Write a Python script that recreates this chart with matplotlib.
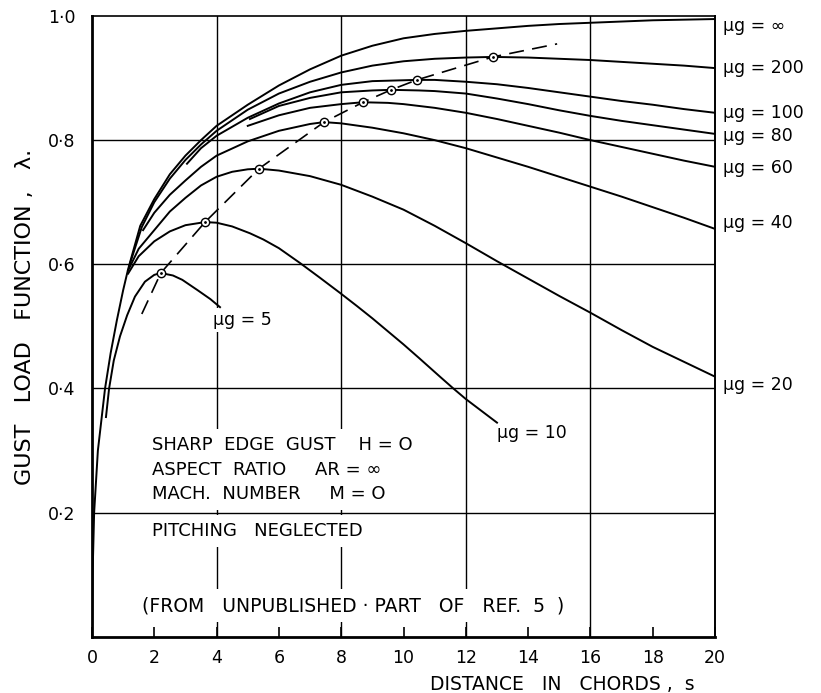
import matplotlib
matplotlib.use("Agg")
import matplotlib.pyplot as plt

# curve readings (distance in chords, gust load function)
inf_x = [0, 0.02, 0.07, 0.19, 0.42, 0.6, 0.8, 1.0, 1.16, 1.55, 2, 2.5, 3, 3.5, 4, 5, 6, 7, 8, 9, 10, 11, 12, 13, 14, 15, 16, 17, 18, 19, 20]
inf_y = [0, 0.1, 0.2, 0.3, 0.4, 0.457, 0.51, 0.558, 0.592, 0.662, 0.705, 0.745, 0.775, 0.8, 0.823, 0.857, 0.888, 0.914, 0.936, 0.952, 0.964, 0.971, 0.976, 0.980, 0.984, 0.987, 0.989, 0.991, 0.993, 0.994, 0.995]

mu200_x = [1.2, 1.6, 2, 2.5, 3, 3.5, 4, 5, 6, 7, 8, 9, 10, 11, 12, 12.87, 14, 15, 16, 17, 18, 19, 20]
mu200_y = [0.598, 0.66, 0.70, 0.738, 0.768, 0.793, 0.815, 0.849, 0.875, 0.894, 0.909, 0.92, 0.927, 0.931, 0.933, 0.934, 0.933, 0.931, 0.929, 0.926, 0.923, 0.92, 0.916]

mu100_x = [3.05, 3.5, 4, 5, 6, 7, 8, 9, 10.43, 11, 12, 13, 14, 15, 16, 17, 18, 19, 20]
mu100_y = [0.762, 0.787, 0.807, 0.836, 0.859, 0.877, 0.889, 0.895, 0.897, 0.897, 0.894, 0.890, 0.884, 0.877, 0.870, 0.863, 0.857, 0.850, 0.844]

mu80_x = [5.07, 6, 7, 8, 9, 9.6, 10.5, 11, 12, 13, 14, 15, 16, 17, 18, 19, 20]
mu80_y = [0.834, 0.855, 0.868, 0.877, 0.880, 0.881, 0.880, 0.879, 0.875, 0.867, 0.858, 0.848, 0.839, 0.831, 0.824, 0.817, 0.810]

mu60_x = [5.0, 6, 7, 8, 8.7, 9.5, 10, 11, 12, 13, 14, 15, 16, 17, 18, 19, 20]
mu60_y = [0.823, 0.84, 0.852, 0.858, 0.861, 0.860, 0.858, 0.852, 0.844, 0.834, 0.823, 0.812, 0.800, 0.789, 0.778, 0.767, 0.757]

mu40_x = [1.64, 2, 2.5, 3, 3.5, 4, 5, 6, 7, 7.45, 8, 9, 10, 11, 12, 13, 14, 15, 16, 17, 18, 19, 20]
mu40_y = [0.655, 0.683, 0.712, 0.735, 0.757, 0.775, 0.798, 0.815, 0.826, 0.829, 0.827, 0.820, 0.811, 0.800, 0.787, 0.772, 0.757, 0.741, 0.725, 0.709, 0.692, 0.675, 0.657]

mu20_x = [1.16, 1.5, 2, 2.5, 3, 3.5, 4, 4.5, 5, 5.36, 6, 7, 8, 9, 10, 11, 12, 13, 14, 15, 16, 17, 18, 19, 20]
mu20_y = [0.59, 0.625, 0.655, 0.685, 0.707, 0.727, 0.741, 0.749, 0.753, 0.754, 0.751, 0.742, 0.728, 0.709, 0.688, 0.662, 0.634, 0.605, 0.577, 0.549, 0.522, 0.494, 0.467, 0.443, 0.419]

mu10_x = [1.16, 1.5, 2, 2.5, 3, 3.63, 4, 4.5, 5.07, 5.5, 6, 6.68, 7.3, 7.96, 8.5, 9, 9.5, 10, 10.5, 11.17, 11.6, 12, 12.5, 13]
mu10_y = [0.585, 0.613, 0.637, 0.653, 0.663, 0.668, 0.667, 0.661, 0.65, 0.64, 0.626, 0.602, 0.579, 0.554, 0.533, 0.513, 0.492, 0.471, 0.449, 0.419, 0.40, 0.383, 0.364, 0.345]

mu5_x = [0.45, 0.55, 0.7, 0.9, 1.13, 1.38, 1.7, 2.0, 2.21, 2.6, 2.9, 3.4, 3.8, 4.11]
mu5_y = [0.354, 0.40, 0.445, 0.484, 0.518, 0.548, 0.572, 0.583, 0.586, 0.582, 0.575, 0.558, 0.544, 0.531]

# locus of maxima (dashed)
peak_x = [2.21, 3.63, 5.36, 7.45, 8.7, 9.6, 10.43, 12.87]
peak_y = [0.586, 0.668, 0.754, 0.829, 0.861, 0.881, 0.897, 0.934]
locus_x = [1.6] + peak_x + [14.93]
locus_y = [0.52] + peak_y + [0.955]

curves = [(inf_x, inf_y), (mu200_x, mu200_y), (mu100_x, mu100_y), (mu80_x, mu80_y),
          (mu60_x, mu60_y), (mu40_x, mu40_y), (mu20_x, mu20_y), (mu10_x, mu10_y), (mu5_x, mu5_y)]

right_labels = ["μg = ∞", "μg = 200", "μg = 100", "μg = 80", "μg = 60", "μg = 40", "μg = 20"]
right_label_y = [0.984, 0.916, 0.844, 0.807, 0.755, 0.667, 0.406]

x_ticks = list(range(0, 21, 2))
y_ticks = [0.2, 0.4, 0.6, 0.8, 1.0]
y_tick_labels = ["0·2", "0·4", "0·6", "0·8", "1·0"]

fig = plt.figure(figsize=(8.21, 6.93), dpi=100)
ax = fig.add_axes([0.112, 0.081, 0.759, 0.896])
ax.set_xlim(0, 20)
ax.set_ylim(0, 1.0)

# grid drawn by hand so text boxes can break it
for gx in [4, 8, 12, 16]:
    ax.axvline(gx, color="black", lw=1.0, zorder=1)
for gy in [0.2, 0.4, 0.6, 0.8]:
    ax.axhline(gy, color="black", lw=1.0, zorder=1)

for cx, cy in curves:
    ax.plot(cx, cy, color="black", lw=1.4, zorder=3, solid_joinstyle="round")

ax.plot(locus_x, locus_y, color="black", lw=1.2, dashes=(9, 5), zorder=3)
ax.plot(peak_x, peak_y, "o", ms=6, mfc="white", mec="black", mew=1.0, zorder=4)
ax.plot(peak_x, peak_y, ".", ms=2, color="black", zorder=5)

for lab, ly in zip(right_labels, right_label_y):
    ax.text(20.25, ly, lab, fontsize=12.5, va="center", ha="left", clip_on=False)

box = dict(fc="white", ec="none", pad=2)
ax.text(3.9, 0.51, "μg = 5", fontsize=12.5, va="center", ha="left", bbox=box, zorder=2)
ax.text(13.0, 0.328, "μg = 10", fontsize=12.5, va="center", ha="left", bbox=box, zorder=2)

note = dict(fc="white", ec="none", pad=5)
ax.text(1.93, 0.309, "SHARP  EDGE  GUST    H = O", fontsize=13, va="center", bbox=note, zorder=2)
ax.text(1.93, 0.269, "ASPECT  RATIO     AR = ∞", fontsize=13, va="center", bbox=note, zorder=2)
ax.text(1.93, 0.230, "MACH.  NUMBER     M = O", fontsize=13, va="center", bbox=note, zorder=2)
ax.text(1.93, 0.171, "PITCHING   NEGLECTED", fontsize=13, va="center", bbox=note, zorder=2)
ax.text(1.6, 0.050, "(FROM   UNPUBLISHED · PART   OF   REF.  5  )", fontsize=13.5, va="center", bbox=note, zorder=2)

ax.set_xticks(x_ticks)
ax.set_xticklabels([str(t) for t in x_ticks], fontsize=12.5)
ax.set_yticks(y_ticks)
ax.set_yticklabels(y_tick_labels, fontsize=12.5)
ax.tick_params(axis="x", direction="in", length=7, width=1.2, pad=9)
ax.tick_params(axis="y", length=0, pad=12)

ax.set_xlabel("DISTANCE   IN   CHORDS ,  s", fontsize=13.5)
ax.xaxis.set_label_coords(0.755, -0.062)
ax.set_ylabel("GUST   LOAD   FUNCTION ,   λ.", fontsize=16)
ax.yaxis.set_label_coords(-0.092, 0.515)

ax.spines["left"].set_linewidth(2.0)
ax.spines["bottom"].set_linewidth(2.0)
ax.spines["top"].set_linewidth(1.2)
ax.spines["right"].set_linewidth(1.4)

fig.savefig("out.png", dpi=100)
